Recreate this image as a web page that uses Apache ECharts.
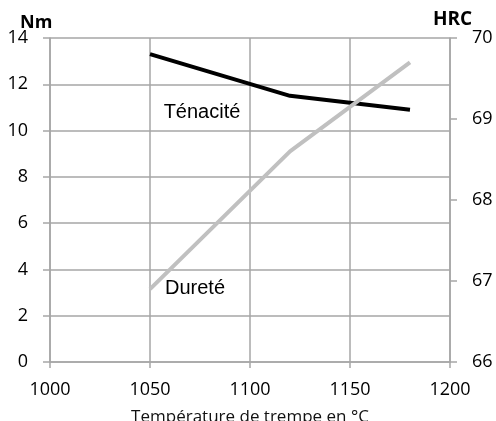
<!DOCTYPE html>
<html>
<head>
<meta charset="utf-8">
<script src="https://cdn.jsdelivr.net/npm/echarts@6/dist/echarts.min.js"></script>
<style>
  html, body { margin: 0; padding: 0; background: #fff; }
  #chart { width: 496px; height: 421px; }
</style>
</head>
<body>
<div id="chart"></div>
<script>
// temperatures de trempe (°C)
var temps = [1050, 1120, 1180];
// ténacité en Nm (axe gauche)
var tenacite = [13.3, 11.5, 10.9];
// dureté en HRC (axe droit)
var durete = [66.9, 68.6, 69.7];

var gridColor = '#a6a6a6';
var tickFont = { fontFamily: 'Open Sans', fontSize: 18, color: '#000' };

function pairs(xs, ys) {
  return xs.map(function (x, i) { return [x, ys[i]]; });
}

// libellé posé sur le graphe, sans symbole visible
function tag(text, coord) {
  return {
    symbol: 'rect',
    symbolSize: 1,
    itemStyle: { color: 'rgba(0,0,0,0)' },
    label: { show: true, position: 'inside', formatter: text, fontFamily: 'Liberation Sans', fontSize: 20, color: '#000' },
    data: [{ coord: coord }]
  };
}

var chart = echarts.init(document.getElementById('chart'), null, { renderer: 'canvas' });

var option = {
  animation: false,
  backgroundColor: '#fff',
  grid: { left: 50, right: 46, top: 38, bottom: 59, containLabel: false, outerBoundsMode: 'none' },
  xAxis: {
    type: 'value',
    min: 1000,
    max: 1200,
    interval: 50,
    name: 'Température de trempe en °C',
    nameLocation: 'middle',
    nameGap: 47,
    nameTextStyle: { fontFamily: 'Open Sans', fontSize: 17, color: '#111' },
    axisLine: { show: true, lineStyle: { color: gridColor, width: 1.5 } },
    axisTick: { show: true, length: 6, lineStyle: { color: gridColor, width: 1.5 } },
    axisLabel: Object.assign({ margin: 19, formatter: function (v) { return String(v); } }, tickFont),
    splitLine: { show: true, lineStyle: { color: gridColor, width: 1.5 } }
  },
  yAxis: [
    {
      type: 'value',
      min: 0,
      max: 14,
      interval: 2,
      position: 'left',
      axisLine: { show: true, lineStyle: { color: gridColor, width: 1.5 } },
      axisTick: { show: true, length: 7, lineStyle: { color: gridColor, width: 1.5 } },
      axisLabel: Object.assign({ margin: 22 }, tickFont),
      splitLine: { show: true, lineStyle: { color: gridColor, width: 1.5 } }
    },
    {
      type: 'value',
      min: 66,
      max: 70,
      interval: 1,
      position: 'right',
      axisLine: { show: true, lineStyle: { color: gridColor, width: 1.5 } },
      axisTick: { show: true, length: 7, lineStyle: { color: gridColor, width: 1.5 } },
      axisLabel: Object.assign({ margin: 22 }, tickFont),
      splitLine: { show: false }
    }
  ],
  graphic: [
    { type: 'text', left: 20, top: 14, style: { text: 'Nm', font: 'bold 18px "Open Sans"', fill: '#000' } },
    { type: 'text', left: 433, top: 10, style: { text: 'HRC', font: 'bold 19px "Open Sans"', fill: '#000' } }
  ],
  series: [
    {
      name: 'Ténacité',
      type: 'line',
      yAxisIndex: 0,
      data: pairs(temps, tenacite),
      symbol: 'none',
      lineStyle: { color: '#000', width: 4 },
      markPoint: tag('Ténacité', [1076, 10.8])
    },
    {
      name: 'Dureté',
      type: 'line',
      yAxisIndex: 1,
      data: pairs(temps, durete),
      symbol: 'none',
      lineStyle: { color: '#c0c0c0', width: 4 },
      markPoint: tag('Dureté', [1072.5, 66.91])
    }
  ]
};

chart.setOption(option);
</script>
</body>
</html>
